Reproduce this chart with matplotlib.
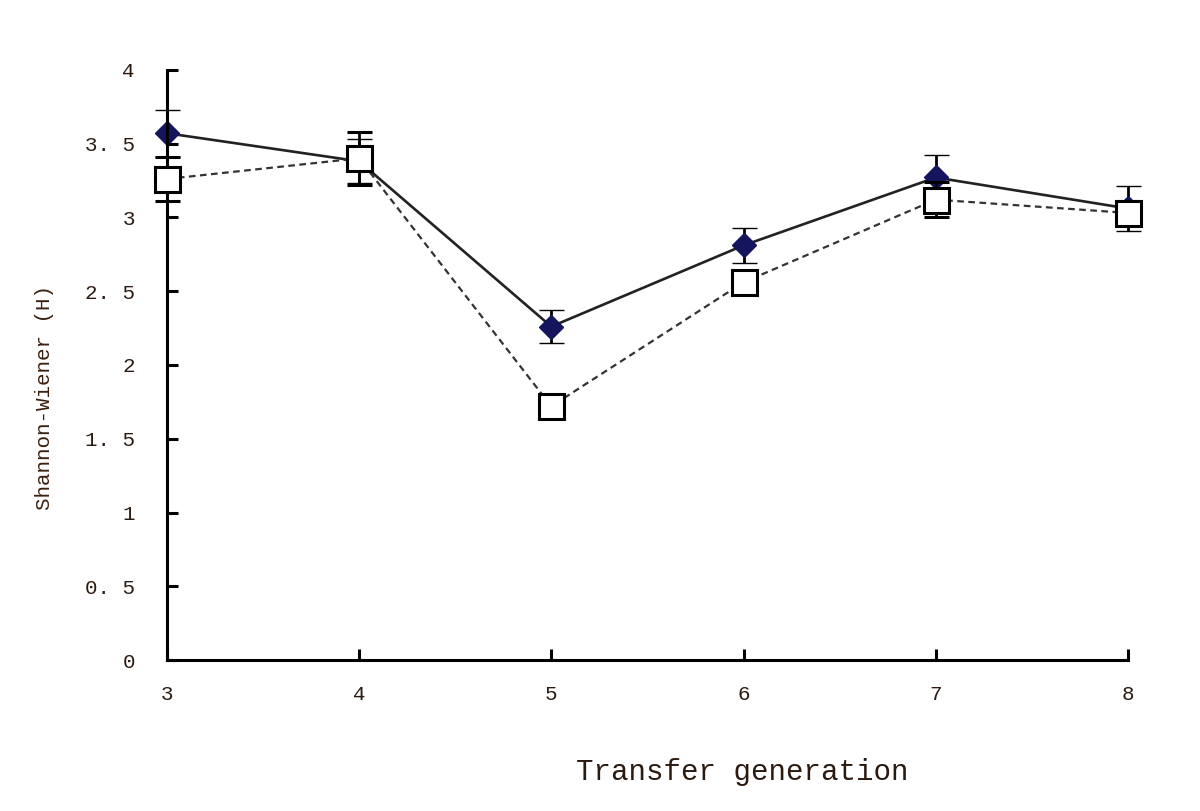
import matplotlib.pyplot as plt
import numpy as np

generation = [3, 4, 5, 6, 7, 8]
h_a = [3.57, 3.38, 2.26, 2.81, 3.27, 3.06]
err_a = [0.16, 0.15, 0.11, 0.12, 0.15, 0.15]
h_b = [3.26, 3.40, 1.72, 2.56, 3.12, 3.03]
err_b = [0.15, 0.18, 0.04, 0.06, 0.12, 0.08]

plt.rcParams['font.family'] = ['Liberation Mono', 'DejaVu Sans Mono']

fig = plt.figure(figsize=(12, 8.11), dpi=100)
ax = fig.add_axes([0.139, 0.186, 0.801, 0.728])

lb = ax.errorbar(generation, h_b, yerr=err_b, color='#333333', ls=(0, (3, 2)), lw=1.6,
                 marker='s', ms=18, mfc='white', mec='black', mew=2.2,
                 ecolor='black', elinewidth=2, capsize=9, capthick=2.2, zorder=3)
la = ax.errorbar(generation, h_a, yerr=err_a, color='#222222', ls='-', lw=1.9,
                 marker='D', ms=12, mfc='#15155e', mec='#15155e', mew=1,
                 ecolor='black', elinewidth=2, capsize=9, capthick=2.2, zorder=2)
# let markers at the axis ends show fully
for cont in (la, lb):
    for art in cont.lines[0:1] + tuple(cont.lines[1]) + tuple(cont.lines[2]):
        art.set_clip_on(False)

ax.set_xlim(3, 8)
ax.set_ylim(0, 4)
ax.set_xticks(generation)
ax.set_yticks(np.arange(0, 4.01, 0.5))
ax.set_yticklabels(['0', '0. 5', '1', '1. 5', '2', '2. 5', '3', '3. 5', '4'])
ax.spines['top'].set_visible(False)
ax.spines['right'].set_visible(False)
ax.spines['left'].set_linewidth(2.2)
ax.spines['bottom'].set_linewidth(2.2)
ax.tick_params(direction='in', length=8, width=2.2, labelsize=15, colors='black', labelcolor='#2a1a10')
ax.tick_params(axis='y', pad=23)
ax.tick_params(axis='x', pad=18)

ax.set_xlabel('Transfer generation', fontsize=21, color='#2a1a10')
ax.xaxis.set_label_coords((742 / 1200 - 0.139) / 0.801, (811 - 772 - 811 * 0.186) / (811 * 0.728), transform=ax.transAxes)
ax.xaxis.label.set_va('center')
ax.set_ylabel('Shannon-Wiener (H)', fontsize=15, color='#3a2010')
ax.yaxis.set_label_coords((45 / 1200 - 0.139) / 0.801, (811 - 397 - 811 * 0.186) / (811 * 0.728), transform=ax.transAxes)
ax.yaxis.label.set_va('center')

fig.savefig('out.png', dpi=100)
